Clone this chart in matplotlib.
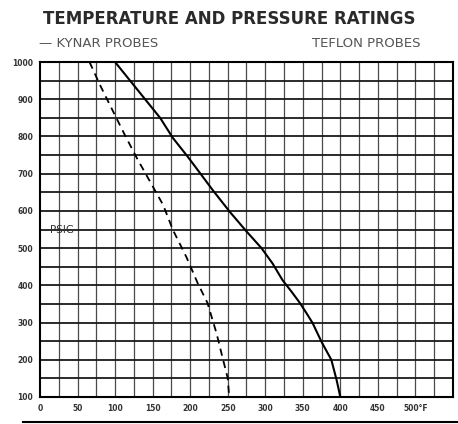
import numpy as np
import matplotlib
matplotlib.use("Agg")
import matplotlib.pyplot as plt

# Teflon probes (solid) - temperature F vs pressure PSIG
teflon_t = [100, 130, 160, 177, 197, 213, 230, 253, 275, 295, 310, 323, 335, 346, 355, 363, 375, 388, 395, 400]
teflon_p = [1000, 925, 850, 796, 745, 702, 656, 597, 545, 500, 458, 414, 383, 353, 325, 299, 248, 200, 146, 100]

# Kynar probes (dashed)
kynar_t = [66, 80, 93, 113, 129, 144, 164, 177, 195, 210, 223, 235, 243, 250, 252]
kynar_p = [1000, 938, 885, 804, 742, 688, 616, 549, 476, 406, 353, 272, 207, 151, 100]

y_ticks = [100, 200, 300, 400, 500, 600, 700, 800, 900, 1000]
x_ticks = [0, 50, 100, 150, 200, 250, 300, 350, 400, 450, 500]
x_labels = ['0', '50', '100', '150', '200', '250', '300', '350', '400', '450', '500°F']

fig = plt.figure(figsize=(4.58, 4.24), dpi=100)
fig.patch.set_facecolor('white')

ax = fig.add_axes([0.0873, 0.0637, 0.9017, 0.790])
ax.set_xlim(0, 550)
ax.set_ylim(100, 1000)

# grid, like the scanned chart paper
for x in range(25, 550, 25):
    ax.axvline(x, color='#4a4a4a', lw=0.9, zorder=1)
for y in range(150, 1000, 50):
    ax.axhline(y, color='#1a1a1a', lw=1.3, zorder=1)

ax.plot(teflon_t, teflon_p, color='black', lw=1.5, zorder=3)
ax.plot(kynar_t, kynar_p, color='black', lw=1.3, dashes=(4, 3), zorder=3)

for s in ax.spines.values():
    s.set_color('black')
    s.set_linewidth(1.5)

ax.set_xticks(x_ticks)
ax.set_xticklabels(x_labels)
ax.set_yticks(y_ticks)
ax.set_yticklabels([str(v) for v in y_ticks])
ax.tick_params(length=0, labelsize=5.5, colors='#333333', pad=5)
for lab in ax.get_xticklabels() + ax.get_yticklabels():
    lab.set_fontweight('bold')

ax.text(0.025, 0.50, 'PSIG', transform=ax.transAxes, fontsize=7.5,
        color='#333333', ha='left', va='center')

fig.text(0.5, 0.955, 'TEMPERATURE AND PRESSURE RATINGS', ha='center', va='center',
         fontsize=12, fontweight='bold', color='#2a2a2a')
fig.text(0.085, 0.897, '— KYNAR PROBES', ha='left', va='center',
         fontsize=9.5, color='#555555')
fig.text(0.918, 0.897, 'TEFLON PROBES', ha='right', va='center',
         fontsize=9.5, color='#555555')

# rule below the chart
fig.add_artist(plt.Line2D([0.05, 1.0], [0.005, 0.005], color='black', lw=1.5))

plt.savefig('out.png', dpi=100)
